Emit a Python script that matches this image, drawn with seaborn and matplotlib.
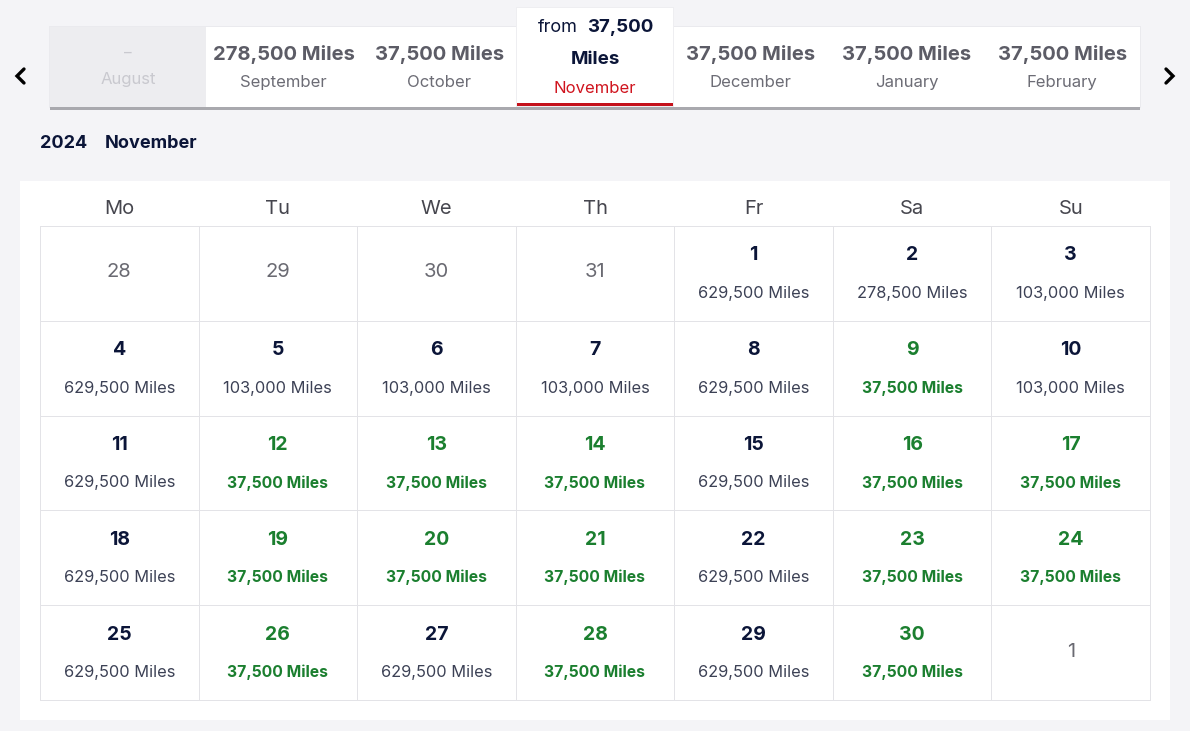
import matplotlib
matplotlib.use("Agg")
import matplotlib.pyplot as plt
from matplotlib.colors import ListedColormap
from matplotlib.patches import Rectangle
import numpy as np
import seaborn as sns

# month strip
tab_months = ["August", "September", "October", "November", "December", "January", "February"]
tab_miles = [None, 278500, 37500, 37500, 37500, 37500, 37500]
selected_month = "November"
year = 2024

# calendar for the selected month
weekdays = ["Mo", "Tu", "We", "Th", "Fr", "Sa", "Su"]
lead_days = [28, 29, 30, 31]   # end of October
trail_days = [1]               # start of December
nov_miles = [
    629500, 278500, 103000,
    629500, 103000, 103000, 103000, 629500, 37500, 103000,
    629500, 37500, 37500, 37500, 629500, 37500, 37500,
    629500, 37500, 37500, 37500, 629500, 37500, 37500,
    629500, 37500, 629500, 37500, 629500, 37500,
]

W, H = 1190, 731
BG = "#f4f4f7"
NAVY = "#0b1538"
GREEN = "#1b7f2f"
RED = "#d0141e"

sns.set_theme(style="white")
plt.rcParams["font.family"] = ["Inter", "DejaVu Sans"]


def fmt(m):
    return f"{m:,} Miles"


def fig_rect(x0, y0, x1, y1):
    return [x0 / W, 1 - y1 / H, (x1 - x0) / W, (y1 - y0) / H]


fig = plt.figure(figsize=(W / 100, H / 100), dpi=100, facecolor=BG)

# background layer in pixel units
bg = fig.add_axes([0, 0, 1, 1])
bg.set_xlim(0, W)
bg.set_ylim(H, 0)
bg.axis("off")
bg.set_facecolor(BG)

# tab bar shadow + calendar panel
bg.add_patch(Rectangle((49, 26), 1092, 82, color="#eaeaee", lw=0))
bg.add_patch(Rectangle((50, 106), 1090, 4, color="#a9a9ae", lw=0))
bg.add_patch(Rectangle((20, 181), 1150, 539, color="white", lw=0))

# arrows
bg.plot([24, 17, 24], [69, 76, 83], color="black", lw=2.4, solid_joinstyle="miter")
bg.plot([1166, 1173, 1166], [69, 76, 83], color="black", lw=2.4, solid_joinstyle="miter")

# heading
bg.text(40, 144, str(year), ha="left", va="center", fontsize=13, fontweight="bold", color=NAVY)
bg.text(105, 144, selected_month, ha="left", va="center", fontsize=13, fontweight="bold", color=NAVY)

# ---- month tabs ----
ax_tab = fig.add_axes(fig_rect(50, 27, 1140, 107))
avail = np.array([[0 if m is None else 1 for m in tab_miles]])
sns.heatmap(avail, ax=ax_tab, cmap=ListedColormap(["#ededf0", "#ffffff"]), vmin=0, vmax=1,
            cbar=False, xticklabels=False, yticklabels=False)

s = tab_months.index(selected_month)
ax_tab.add_patch(Rectangle((s - 0.006, -0.245), 1.012, 1.24, color="#eeeef1", lw=0,
                           clip_on=False, zorder=3))
ax_tab.add_patch(Rectangle((s, -0.2375), 1, 1.225, color="white", lw=0, clip_on=False, zorder=3.5))
ax_tab.add_patch(Rectangle((s, 0.95), 1, 0.04, color="#c4111b", lw=0, clip_on=False, zorder=4))

for i, (month, miles) in enumerate(zip(tab_months, tab_miles)):
    x = i + 0.5
    if month == selected_month:
        ax_tab.text(x - 0.11, 0.01, "from", ha="right", va="center", fontsize=13,
                    color=NAVY, zorder=5, clip_on=False)
        ax_tab.text(x - 0.05, 0.01, f"{miles:,}", ha="left", va="center", fontsize=13.5,
                    fontweight="bold", color=NAVY, zorder=5, clip_on=False)
        ax_tab.text(x, 0.41, "Miles", ha="center", va="center", fontsize=13.5,
                    fontweight="bold", color=NAVY, zorder=5)
        ax_tab.text(x, 0.77, month, ha="center", va="center", fontsize=12, color=RED, zorder=5)
    elif miles is None:
        ax_tab.text(x, 0.33, "–", ha="center", va="center", fontsize=11, color="#c9c9cf")
        ax_tab.text(x, 0.66, month, ha="center", va="center", fontsize=12, color="#c9c9cf")
    else:
        ax_tab.text(x, 0.345, fmt(miles), ha="center", va="center", fontsize=14.5,
                    fontweight="bold", color="#5c5c66")
        ax_tab.text(x, 0.69, month, ha="center", va="center", fontsize=12, color="#6c6c75")

# ---- calendar grid ----
days = lead_days + list(range(1, len(nov_miles) + 1)) + trail_days
in_month = [False] * len(lead_days) + [True] * len(nov_miles) + [False] * len(trail_days)
miles_all = [None] * len(lead_days) + nov_miles + [None] * len(trail_days)
cheapest = min(nov_miles)
n_rows = len(days) // 7

kind = np.array([0 if m is None else (2 if m == cheapest else 1) for m in miles_all]).reshape(n_rows, 7)

ax_cal = fig.add_axes(fig_rect(40, 226, 1150, 700))
sns.heatmap(kind, ax=ax_cal, cmap=ListedColormap(["white"]), cbar=False,
            linewidths=0.5, linecolor="#e3e3e7", xticklabels=weekdays, yticklabels=False)
ax_cal.collections[0].set_clip_on(False)
ax_cal.xaxis.tick_top()
ax_cal.tick_params(axis="x", length=0, pad=6, labelsize=14.5, labelcolor="#46464e")

for k, (day, ok, miles) in enumerate(zip(days, in_month, miles_all)):
    r, c = divmod(k, 7)
    x = c + 0.5
    if not ok:
        ax_cal.text(x, r + 0.49, str(day), ha="center", va="center", fontsize=14.5, color="#6a6a72")
        continue
    cheap = miles == cheapest
    ax_cal.text(x, r + 0.31, str(day), ha="center", va="center", fontsize=14,
                fontweight="bold", color=GREEN if cheap else NAVY)
    ax_cal.text(x, r + 0.71, fmt(miles), ha="center", va="center",
                fontsize=11.3 if cheap else 11.8,
                fontweight="bold" if cheap else "normal", color=GREEN if cheap else "#3c4155")

fig.savefig("out.png", dpi=100, facecolor=BG)
